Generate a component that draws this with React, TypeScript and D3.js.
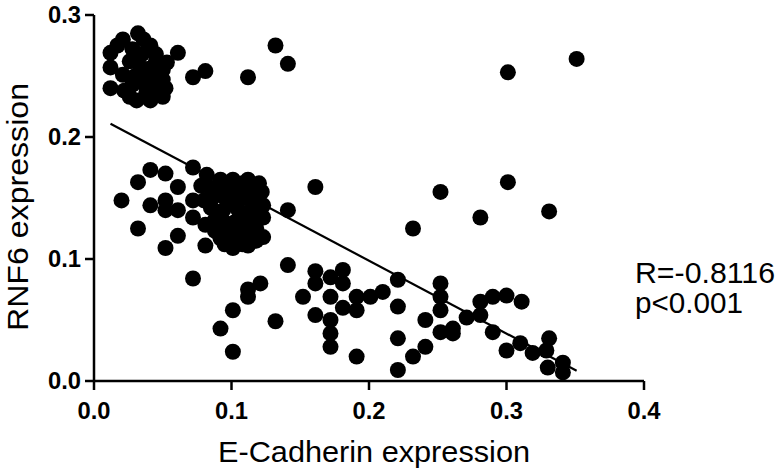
import React from "react";
import * as d3 from "d3";

const xTicks = [0.0, 0.1, 0.2, 0.3, 0.4];
const yTicks = [0.0, 0.1, 0.2, 0.3];
const xTitle = "E-Cadherin expression";
const yTitle = "RNF6 expression";
const statR = "R=-0.8116";
const statP = "p<0.001";

// regression line: intercept, slope, x-range
const fitIntercept = 0.218;
const fitSlope = -0.597;
const fitRange = [0.012, 0.351];

const upperGroup: [number, number][] = [
  [0.012, 0.269], [0.012, 0.257], [0.012, 0.240], [0.021, 0.280], [0.032, 0.285],
  [0.041, 0.275], [0.061, 0.269], [0.053, 0.261], [0.021, 0.251], [0.032, 0.261],
  [0.041, 0.230], [0.031, 0.230], [0.052, 0.240], [0.041, 0.244], [0.072, 0.249],
  [0.081, 0.254], [0.112, 0.249], [0.132, 0.275], [0.141, 0.260], [0.301, 0.253],
  [0.351, 0.264], [0.028, 0.272], [0.035, 0.252], [0.045, 0.262], [0.046, 0.252],
  [0.028, 0.243], [0.022, 0.238], [0.038, 0.236], [0.050, 0.255], [0.017, 0.275],
  [0.036, 0.280], [0.045, 0.268], [0.050, 0.233], [0.026, 0.262], [0.040, 0.256],
  [0.030, 0.250], [0.045, 0.240], [0.035, 0.268], [0.050, 0.247], [0.026, 0.233],
  [0.036, 0.244],
];

const middleGroup: [number, number][] = [
  [0.020, 0.148], [0.032, 0.163], [0.041, 0.173], [0.052, 0.170], [0.041, 0.144],
  [0.052, 0.148], [0.052, 0.140], [0.061, 0.159], [0.061, 0.140], [0.032, 0.125],
  [0.061, 0.119], [0.052, 0.109], [0.072, 0.175], [0.072, 0.148], [0.072, 0.134],
  [0.081, 0.128], [0.081, 0.111], [0.082, 0.169], [0.092, 0.165], [0.101, 0.165],
  [0.112, 0.165], [0.122, 0.155], [0.123, 0.144], [0.123, 0.134], [0.123, 0.118],
  [0.092, 0.117], [0.101, 0.109], [0.112, 0.111], [0.085, 0.158], [0.093, 0.152],
  [0.095, 0.160], [0.100, 0.152], [0.105, 0.158], [0.110, 0.150], [0.115, 0.155],
  [0.085, 0.142], [0.094, 0.140], [0.098, 0.145], [0.105, 0.140], [0.112, 0.138],
  [0.118, 0.145], [0.088, 0.132], [0.096, 0.129], [0.102, 0.130], [0.108, 0.125],
  [0.115, 0.128], [0.098, 0.120], [0.105, 0.118], [0.112, 0.122], [0.118, 0.125],
  [0.080, 0.148], [0.078, 0.160], [0.090, 0.160], [0.108, 0.162], [0.120, 0.162],
  [0.088, 0.123], [0.095, 0.112], [0.108, 0.112], [0.118, 0.115], [0.086, 0.150],
  [0.102, 0.146], [0.110, 0.132], [0.120, 0.138], [0.090, 0.138], [0.116, 0.160],
  [0.141, 0.140], [0.161, 0.159], [0.252, 0.155], [0.301, 0.163], [0.281, 0.134],
  [0.331, 0.139], [0.232, 0.125],
];

const lowerGroup: [number, number][] = [
  [0.072, 0.084], [0.141, 0.095], [0.161, 0.090], [0.161, 0.080], [0.161, 0.054],
  [0.152, 0.069], [0.121, 0.080], [0.112, 0.075], [0.112, 0.069], [0.101, 0.058],
  [0.092, 0.043], [0.101, 0.024], [0.132, 0.049], [0.181, 0.091], [0.181, 0.080],
  [0.172, 0.085], [0.172, 0.069], [0.172, 0.050], [0.172, 0.039], [0.172, 0.028],
  [0.181, 0.060], [0.191, 0.069], [0.191, 0.058], [0.201, 0.069], [0.210, 0.073],
  [0.221, 0.083], [0.221, 0.061], [0.221, 0.035], [0.221, 0.009], [0.191, 0.020],
  [0.232, 0.020], [0.241, 0.028], [0.241, 0.050], [0.252, 0.080], [0.252, 0.069],
  [0.252, 0.058], [0.252, 0.040], [0.261, 0.043], [0.261, 0.039], [0.271, 0.052],
  [0.281, 0.065], [0.281, 0.054], [0.290, 0.069], [0.300, 0.070], [0.311, 0.065],
  [0.290, 0.040], [0.300, 0.025], [0.310, 0.031], [0.319, 0.023], [0.329, 0.025],
  [0.331, 0.035], [0.330, 0.011], [0.341, 0.015], [0.341, 0.007],
];

const W = 784;
const H = 476;
const FONT = "'Liberation Sans', Arial, Helvetica, sans-serif";

export default function App() {
  const x = d3.scaleLinear().domain([0, 0.4]).range([94, 644]);
  const y = d3.scaleLinear().domain([0, 0.3]).range([381, 15]);
  const points = [...upperGroup, ...middleGroup, ...lowerGroup];
  const fmt = d3.format(".1f");
  const line = d3
    .line<number>()
    .x((v) => x(v))
    .y((v) => y(fitIntercept + fitSlope * v));

  return (
    <svg
      width={W}
      height={H}
      style={{ position: "absolute", left: 0, top: 0, background: "#fff" }}
    >
      <rect x={0} y={0} width={W} height={H} fill="#fff" />
      {points.map((p, i) => (
        <circle key={i} cx={x(p[0])} cy={y(p[1])} r={8} fill="#000" />
      ))}
      <path d={line(fitRange) || ""} stroke="#000" strokeWidth={2.2} fill="none" />
      {/* axes */}
      <line x1={x(0)} x2={x(0)} y1={y(0.3)} y2={y(0)} stroke="#000" strokeWidth={2.5} />
      <line x1={x(0)} x2={x(0.4)} y1={y(0)} y2={y(0)} stroke="#000" strokeWidth={2.5} />
      {yTicks.map((t) => (
        <g key={"y" + t}>
          <line x1={x(0) - 9} x2={x(0)} y1={y(t)} y2={y(t)} stroke="#000" strokeWidth={2.5} />
          <text
            x={x(0) - 13}
            y={y(t) + 8}
            textAnchor="end"
            fontFamily={FONT}
            fontWeight="bold"
            fontSize={23}
            textLength={33}
            lengthAdjust="spacingAndGlyphs"
          >
            {fmt(t)}
          </text>
        </g>
      ))}
      {xTicks.map((t) => (
        <g key={"x" + t}>
          <line x1={x(t)} x2={x(t)} y1={y(0)} y2={y(0) + 9} stroke="#000" strokeWidth={2.5} />
          <text
            x={x(t)}
            y={419}
            textAnchor="middle"
            fontFamily={FONT}
            fontWeight="bold"
            fontSize={23}
            textLength={33}
            lengthAdjust="spacingAndGlyphs"
          >
            {fmt(t)}
          </text>
        </g>
      ))}
      <text
        x={374}
        y={462}
        textAnchor="middle"
        fontFamily={FONT}
        fontSize={30}
        textLength={312}
        lengthAdjust="spacingAndGlyphs"
      >
        {xTitle}
      </text>
      <text
        transform={`translate(28,207) rotate(-90)`}
        textAnchor="middle"
        fontFamily={FONT}
        fontSize={30}
        textLength={248}
        lengthAdjust="spacingAndGlyphs"
      >
        {yTitle}
      </text>
      <text x={635} y={283} fontFamily={FONT} fontSize={29} textLength={140} lengthAdjust="spacingAndGlyphs">
        {statR}
      </text>
      <text x={635} y={313} fontFamily={FONT} fontSize={29} textLength={108} lengthAdjust="spacingAndGlyphs">
        {statP}
      </text>
    </svg>
  );
}
